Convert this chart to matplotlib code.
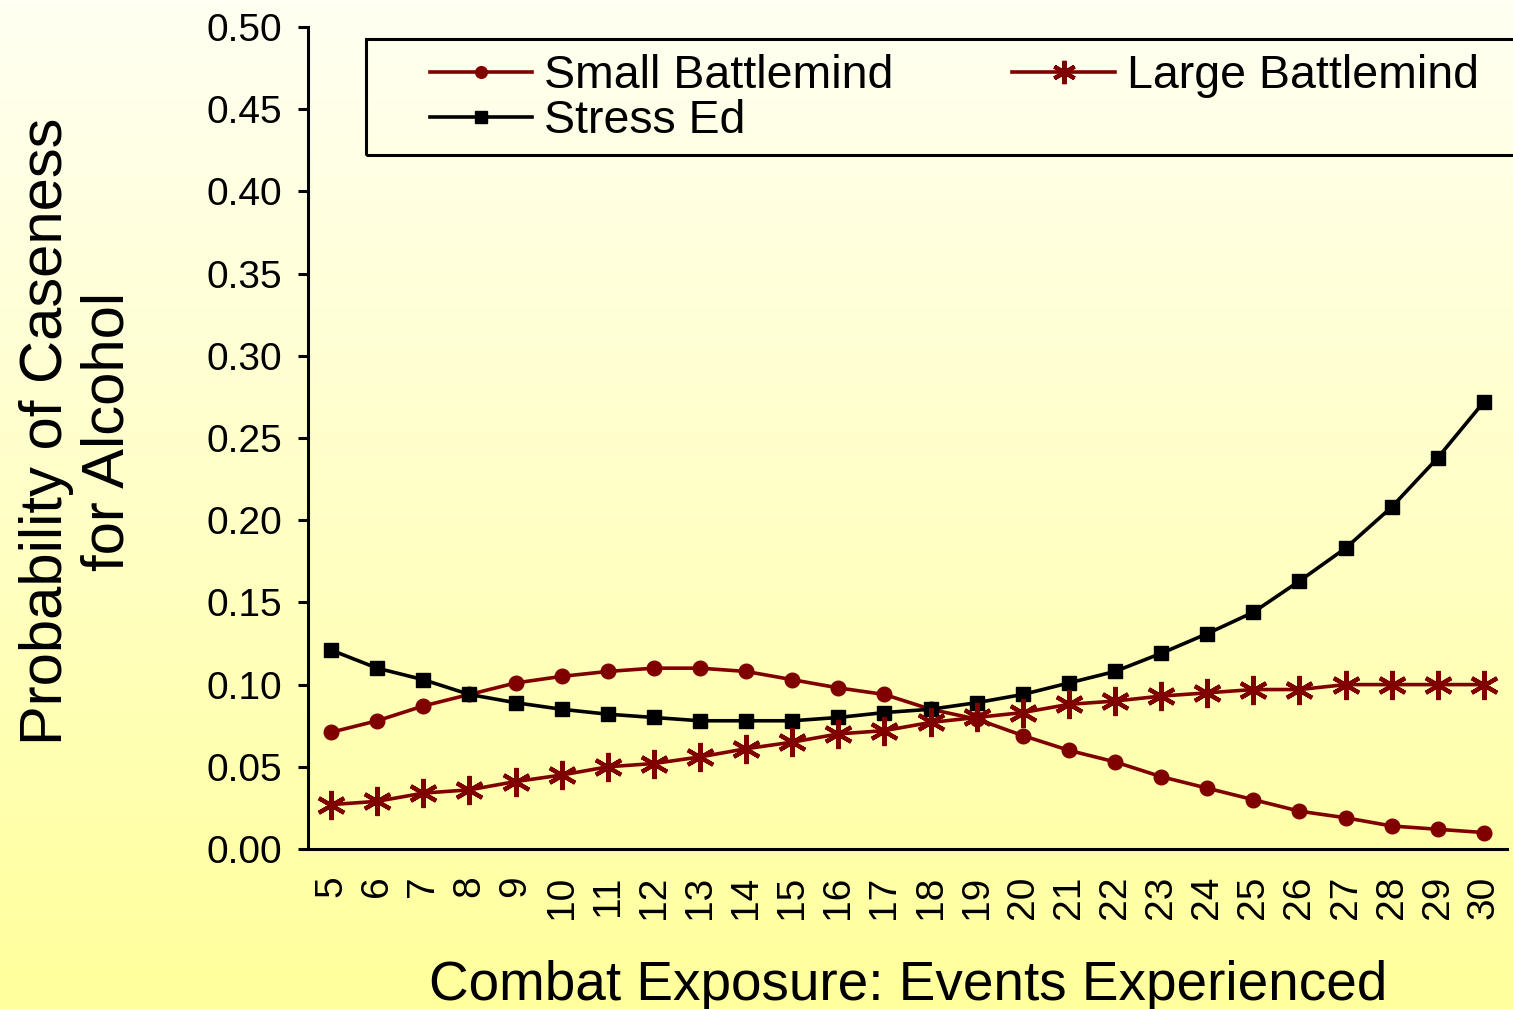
import numpy as np
import matplotlib.pyplot as plt
from matplotlib.patches import Rectangle

# combat exposure: number of events experienced
events = list(range(5, 31))

# probability of caseness for alcohol
small_battlemind = [0.071, 0.078, 0.087, 0.094, 0.101, 0.105, 0.108, 0.110, 0.110,
                    0.108, 0.103, 0.098, 0.094, 0.085, 0.079, 0.069, 0.060, 0.053,
                    0.044, 0.037, 0.030, 0.023, 0.019, 0.014, 0.012, 0.010]
large_battlemind = [0.027, 0.029, 0.034, 0.036, 0.041, 0.045, 0.050, 0.052, 0.056,
                    0.061, 0.065, 0.070, 0.072, 0.077, 0.080, 0.083, 0.088, 0.090,
                    0.093, 0.095, 0.097, 0.097, 0.100, 0.100, 0.100, 0.100]
stress_ed = [0.121, 0.110, 0.103, 0.094, 0.089, 0.085, 0.082, 0.080, 0.078,
             0.078, 0.078, 0.080, 0.083, 0.085, 0.089, 0.094, 0.101, 0.108,
             0.119, 0.131, 0.144, 0.163, 0.183, 0.208, 0.238, 0.272]

y_ticks = [0.00, 0.05, 0.10, 0.15, 0.20, 0.25, 0.30, 0.35, 0.40, 0.45, 0.50]

MAROON = '#800000'
W, H = 1513, 1009


def fx(px):
    return px / W


def fy(py):
    return 1 - py / H


def main():
    plt.rcParams['font.family'] = ['Liberation Sans', 'DejaVu Sans']

    fig = plt.figure(figsize=(W / 100, H / 100), dpi=100)

    # pale cream to yellow background gradient
    bg = fig.add_axes([0, 0, 1, 1], zorder=-10)
    top = np.array([1.0, 1.0, 0.95])
    bottom = np.array([1.0, 1.0, 0.61])
    t = np.linspace(0, 1, 256)[:, None]
    grad = top + (bottom - top) * t
    bg.imshow(grad[:, None, :], aspect='auto', extent=[0, 1, 0, 1])
    bg.axis('off')

    ax = fig.add_axes([fx(308), fy(849), fx(1507) - fx(308), fy(27) - fy(849)])
    ax.set_facecolor('none')

    ax.plot(events, small_battlemind, color=MAROON, marker='o', markersize=10.5,
            linewidth=2.6, label='Small Battlemind', clip_on=False)
    ax.plot(events, stress_ed, color='black', marker='s', markersize=10,
            linewidth=2.6, label='Stress Ed', clip_on=False)
    ax.plot(events, large_battlemind, color=MAROON, marker=(6, 2, 0), markersize=21,
            markeredgewidth=3, linewidth=2.6, label='Large Battlemind', clip_on=False)

    ax.set_xlim(4.5, 30.5)
    ax.set_ylim(0, 0.5)
    ax.set_yticks(y_ticks)
    ax.set_yticklabels(['%.2f' % v for v in y_ticks])
    ax.set_xticks(events)
    ax.set_xticklabels([str(e) for e in events], rotation=90)

    for side in ['top', 'right']:
        ax.spines[side].set_visible(False)
    for side in ['left', 'bottom']:
        ax.spines[side].set_linewidth(2.2)
    ax.tick_params(axis='y', direction='out', length=7.5, width=2.2,
                   labelsize=28, pad=11)
    ax.tick_params(axis='x', length=0, labelsize=28, pad=19)

    fig.text(fx(908), fy(1000), 'Combat Exposure: Events Experienced',
             fontsize=39.5, ha='center', va='baseline')
    fig.text(fx(77), fy(431), 'Probability of Caseness\nfor Alcohol',
             fontsize=43, rotation=90, ha='center', va='center',
             multialignment='center', linespacing=1.15)

    # legend box runs off the right edge like the original
    fig.add_artist(Rectangle((fx(366), fy(155)), fx(1540) - fx(366), fy(39) - fy(155),
                             transform=fig.transFigure, fill=False,
                             edgecolor='black', linewidth=2.2))
    handles, labels = ax.get_legend_handles_labels()
    fig.legend(handles, labels, ncol=2, loc='upper left',
               bbox_to_anchor=(fx(430), fy(54)), frameon=False, fontsize=33.5,
               borderpad=0, borderaxespad=0, handlelength=2.2, handletextpad=0.26,
               columnspacing=2.55, labelspacing=0.03, markerscale=0.8)

    fig.savefig('out.png', dpi=100)


if __name__ == '__main__':
    main()
